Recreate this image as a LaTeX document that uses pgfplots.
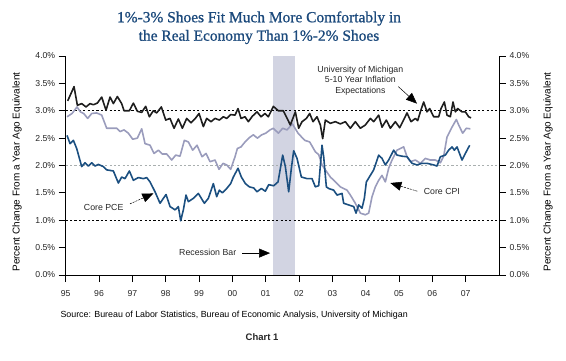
\documentclass[border=0pt]{standalone}
\usepackage{pgfplots}
\pgfplotsset{compat=1.18}
\usepackage{fontspec}
\setmainfont{Liberation Sans}
\newfontfamily\titlefont[FakeBold=0.9]{Liberation Serif}
\usetikzlibrary{arrows.meta}
\definecolor{titleblue}{HTML}{1C4A7C}
\definecolor{pceblue}{HTML}{1B4F80}
\definecolor{cpigray}{HTML}{9A9CBC}
\definecolor{recess}{HTML}{D2D4E2}
\definecolor{refgray}{HTML}{A9AFAF}
\definecolor{mich}{HTML}{1E1E1E}
\begin{document}
\begin{tikzpicture}[x=1bp,y=1bp]
\path[use as bounding box] (0,0) rectangle (566,360);
\pgfplotsset{
  common/.style={
    width=433.3bp, height=219bp, scale only axis,
    at={(65.7bp,85bp)}, anchor=south west,
    xmin=1995, xmax=2008, ymin=0, ymax=4,
    ytick={0,0.5,...,4},
    yticklabel={\pgfmathprintnumber[fixed,fixed zerofill,precision=1]{\tick}\%},
    /pgf/number format/assume math mode=true,
    tick align=outside, major tick length=7bp,
    tick style={black, line width=0.8pt},
    axis line style={black, line width=0.9pt},
    tick label style={font=\fontsize{8.7}{10}\selectfont, text=black!85},
    label style={font=\fontsize{8.8}{10}\selectfont, text=black!75},
  }
}
\begin{axis}[common,
  axis x line*=bottom, axis y line*=left,
  xtick={1995,...,2007},
  xticklabels={95,96,97,98,99,00,01,02,03,04,05,06,07},
  xticklabel style={yshift=-5bp},
  ylabel={Percent Change From a Year Ago Equivalent},
  every axis y label/.style={at={(axis description cs:-0.112,0.47)}, rotate=90, anchor=center},
  clip=false,
]
% recession band
\addplot[draw=none, fill=recess] coordinates {(2001.23,0) (2001.23,4) (2001.88,4) (2001.88,0)} -- cycle;
% reference lines
\addplot[black, line width=0.7pt, dash pattern=on 2.2pt off 2.2pt] coordinates {(1995,3) (2008,3)};
\addplot[black, line width=0.7pt, dash pattern=on 2.2pt off 2.2pt] coordinates {(1995,1) (2008,1)};
\addplot[refgray, line width=0.7pt, dash pattern=on 2.2pt off 2.2pt] coordinates {(1995,2) (2008,2)};
% Core CPI
\addplot[cpigray, line width=1.6pt, line join=round] coordinates {
(1995.04,2.89) (1995.19,2.95) (1995.34,3.07) (1995.44,2.98) (1995.54,2.95) (1995.66,2.86)
(1995.78,2.95) (1995.93,2.96) (1996.08,2.92) (1996.23,2.68) (1996.38,2.68) (1996.53,2.68)
(1996.63,2.62) (1996.75,2.65) (1996.88,2.59) (1997.01,2.48) (1997.15,2.50) (1997.28,2.67)
(1997.38,2.40) (1997.53,2.37) (1997.65,2.22) (1997.78,2.28) (1997.90,2.21) (1998.03,2.21)
(1998.18,2.10) (1998.30,2.19) (1998.43,2.17) (1998.56,2.46) (1998.68,2.43) (1998.81,2.28)
(1998.94,2.37) (1999.09,2.16) (1999.21,2.22) (1999.33,2.07) (1999.48,2.10) (1999.60,1.93)
(1999.72,2.04) (1999.83,2.01) (1999.95,1.93) (2000.08,2.16) (2000.15,2.31) (2000.26,2.34)
(2000.38,2.43) (2000.51,2.51) (2000.63,2.56) (2000.75,2.50) (2000.88,2.56) (2001.00,2.59)
(2001.13,2.65) (2001.23,2.68) (2001.38,2.59) (2001.51,2.68) (2001.64,2.65) (2001.80,2.76)
(2001.97,2.59) (2002.17,2.46) (2002.32,2.43) (2002.49,2.25) (2002.59,2.20) (2002.69,2.01)
(2002.79,1.92) (2002.94,1.79) (2003.09,1.70) (2003.24,1.61) (2003.34,1.58) (2003.44,1.55)
(2003.54,1.46) (2003.69,1.31) (2003.84,1.13) (2003.99,1.10) (2004.09,1.13) (2004.19,1.43)
(2004.29,1.61) (2004.39,1.73) (2004.49,1.82) (2004.59,1.70) (2004.69,1.95) (2004.79,2.10)
(2004.94,2.28) (2005.04,2.31) (2005.14,2.34) (2005.24,2.16) (2005.34,2.07) (2005.49,2.10)
(2005.64,2.04) (2005.79,2.13) (2005.94,2.10) (2006.09,2.10) (2006.24,2.05) (2006.34,2.17)
(2006.44,2.52) (2006.59,2.70) (2006.72,2.84) (2006.79,2.74) (2006.91,2.59) (2007.02,2.68)
(2007.14,2.67)
};
% Core PCE
\addplot[pceblue, line width=1.6pt, line join=round] coordinates {
(1995.04,2.55) (1995.13,2.40) (1995.23,2.46) (1995.33,2.31) (1995.48,1.98) (1995.58,2.05)
(1995.68,1.99) (1995.78,2.05) (1995.88,1.99) (1995.98,2.02) (1996.13,1.98) (1996.23,1.92)
(1996.43,1.90) (1996.58,1.68) (1996.68,1.79) (1996.78,1.76) (1996.91,1.90) (1997.03,1.73)
(1997.18,1.78) (1997.33,1.76) (1997.43,1.78) (1997.53,1.70) (1997.68,1.52) (1997.83,1.31)
(1997.93,1.40) (1998.01,1.47) (1998.13,1.25) (1998.28,1.19) (1998.38,1.25) (1998.45,0.99)
(1998.53,1.19) (1998.61,1.46) (1998.68,1.34) (1998.83,1.40) (1998.98,1.49) (1999.16,1.31)
(1999.28,1.40) (1999.43,1.67) (1999.53,1.43) (1999.61,1.55) (1999.70,1.50) (1999.83,1.58)
(1999.95,1.67) (2000.03,1.79) (2000.17,1.95) (2000.27,1.79) (2000.39,1.67) (2000.51,1.61)
(2000.64,1.59) (2000.74,1.52) (2000.87,1.58) (2000.99,1.53) (2001.09,1.65) (2001.24,1.63)
(2001.37,1.70) (2001.51,2.19) (2001.59,1.98) (2001.69,1.52) (2001.77,1.95) (2001.84,2.27)
(2001.94,2.13) (2002.07,1.79) (2002.24,1.76) (2002.39,1.76) (2002.49,1.61) (2002.59,1.63)
(2002.69,2.37) (2002.74,2.16) (2002.82,1.61) (2002.89,1.58) (2003.04,1.55) (2003.14,1.46)
(2003.29,1.49) (2003.34,1.31) (2003.49,1.28) (2003.64,1.25) (2003.71,1.13) (2003.79,1.28)
(2003.89,1.22) (2003.96,1.40) (2004.02,1.70) (2004.14,1.82) (2004.24,1.92) (2004.39,2.19)
(2004.49,2.13) (2004.59,2.01) (2004.69,2.10) (2004.84,2.28) (2004.94,2.19) (2005.09,2.17)
(2005.24,2.16) (2005.39,2.04) (2005.54,2.01) (2005.69,2.04) (2005.84,2.04) (2006.04,2.01)
(2006.14,1.99) (2006.24,2.16) (2006.39,2.19) (2006.49,2.28) (2006.59,2.34) (2006.66,2.28)
(2006.74,2.34) (2006.89,2.10) (2006.99,2.22) (2007.12,2.37)
};
% Michigan
\addplot[mich, line width=1.6pt, line join=round] coordinates {
(1995.06,3.18) (1995.25,3.44) (1995.35,3.10) (1995.48,3.13) (1995.61,3.07) (1995.73,3.13)
(1995.83,3.11) (1995.95,3.14) (1996.08,3.25) (1996.21,3.01) (1996.33,3.25) (1996.43,3.13)
(1996.55,3.26) (1996.68,3.13) (1996.75,3.00) (1996.91,3.00) (1997.03,3.14) (1997.15,2.99)
(1997.28,2.97) (1997.40,3.08) (1997.51,2.89) (1997.63,3.00) (1997.73,2.96) (1997.87,3.07)
(1998.00,2.83) (1998.13,2.86) (1998.25,2.68) (1998.38,2.85) (1998.50,2.68) (1998.63,2.86)
(1998.76,2.78) (1998.89,2.86) (1999.00,2.95) (1999.13,2.71) (1999.23,2.86) (1999.36,2.80)
(1999.48,2.86) (1999.61,2.83) (1999.73,2.89) (1999.83,2.86) (1999.95,2.93) (2000.08,2.92)
(2000.17,3.04) (2000.26,2.86) (2000.38,2.89) (2000.48,2.80) (2000.60,2.90) (2000.74,2.98)
(2000.86,2.89) (2000.98,2.95) (2001.08,2.89) (2001.23,3.08) (2001.38,3.00) (2001.53,3.00)
(2001.74,2.74) (2001.89,2.98) (2001.99,2.68) (2002.09,2.80) (2002.22,2.86) (2002.32,2.95)
(2002.42,2.80) (2002.54,2.89) (2002.64,2.74) (2002.71,2.49) (2002.79,2.83) (2002.94,2.77)
(2003.09,2.80) (2003.24,2.76) (2003.39,2.80) (2003.54,2.68) (2003.69,2.80) (2003.84,2.68)
(2003.99,2.74) (2004.14,2.86) (2004.24,2.80) (2004.39,2.92) (2004.49,2.70) (2004.62,2.83)
(2004.74,2.68) (2004.89,2.80) (2005.02,2.69) (2005.16,2.86) (2005.24,2.96) (2005.36,2.80)
(2005.49,2.86) (2005.56,2.82) (2005.64,2.98) (2005.74,3.16) (2005.84,2.98) (2005.92,3.04)
(2006.04,2.89) (2006.19,2.89) (2006.26,3.04) (2006.36,3.16) (2006.44,2.92) (2006.54,2.89)
(2006.62,3.16) (2006.69,2.98) (2006.76,3.04) (2006.89,2.98) (2006.99,2.98) (2007.09,2.89)
(2007.16,2.87)
};
% annotations
\node[font=\fontsize{8.8}{10.2}\selectfont, align=center, text=black!85] at (axis cs:2003.84,3.55)
  {University of Michigan\\5-10 Year Inflation\\Expectations};
\draw[line width=0.5pt, -{Triangle[length=11bp,width=9bp]}] (axis cs:2004.98,3.44) -- (axis cs:2005.54,3.13);
\node[font=\fontsize{8.8}{10}\selectfont, anchor=west, text=black!85] at (axis cs:2005.64,1.52) {Core CPI};
\draw[line width=0.5pt, dash pattern=on 2pt off 1pt, -{Triangle[length=11bp,width=9bp]}] (axis cs:2005.55,1.53) -- (axis cs:2004.74,1.68);
\node[font=\fontsize{8.8}{10}\selectfont, text=black!85] at (axis cs:1996.14,1.24) {Core PCE};
\draw[line width=0.5pt, dash pattern=on 2pt off 1pt, -{Triangle[length=11bp,width=9bp]}] (axis cs:1996.93,1.30) -- (axis cs:1997.63,1.49);
\node[font=\fontsize{8.8}{10}\selectfont, text=black!85] at (axis cs:1999.26,0.41) {Recession Bar};
\draw[line width=0.5pt, -{Triangle[length=11bp,width=9bp]}] (axis cs:2000.29,0.40) -- (axis cs:2001.13,0.40);
\end{axis}
\begin{axis}[common,
  axis x line=none, axis y line*=right,
  ylabel={Percent Change From a Year Ago Equivalent},
  every axis y label/.style={at={(axis description cs:1.113,0.47)}, rotate=90, anchor=center},
]
\addplot[draw=none] coordinates {(1995,0) (2008,4)};
\end{axis}
\node[font=\titlefont\fontsize{15.5}{18.5}\selectfont, text=titleblue, align=center] at (259,332.3)
  {1\%-3\% Shoes Fit Much More Comfortably in\\the Real Economy Than 1\%-2\% Shoes};
\node[font=\fontsize{8.9}{10}\selectfont, anchor=west, text=black] at (57,45) {Source: Bureau of Labor Statistics, Bureau of Economic Analysis, University of Michigan};
\node[font=\bfseries\fontsize{9.5}{10}\selectfont, text=black!85] at (262,23) {Chart 1};
\end{tikzpicture}
\end{document}
